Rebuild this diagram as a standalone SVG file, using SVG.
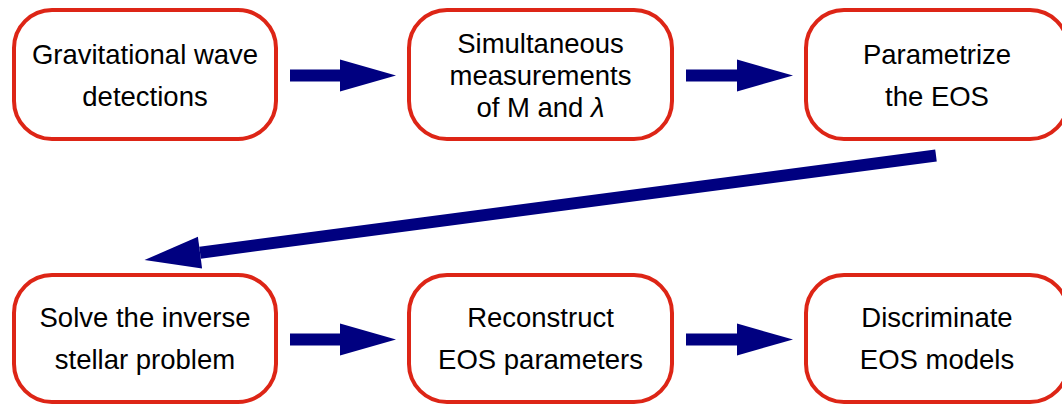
<svg xmlns="http://www.w3.org/2000/svg" width="1062" height="407" viewBox="0 0 1062 407">
<style>
.box{fill:#fff;stroke:#dd2516;stroke-width:4}
.lbl{font-family:"Liberation Sans",Arial,sans-serif;font-size:27.5px;fill:#000;text-anchor:middle}
.arr{stroke:#000080;stroke-width:12;fill:none;marker-end:url(#head)}
</style>
<defs>
<marker id="head" markerUnits="userSpaceOnUse" markerWidth="56" markerHeight="32" viewBox="0 0 56 32" refX="0" refY="16" orient="auto" overflow="visible">
<path d="M0,0 L56,16 L0,32 Z" fill="#000080"/>
</marker>
</defs>
<rect width="1062" height="407" fill="#fff"/>
<g id="n1"><rect class="box" x="14" y="10" width="262" height="129" rx="38"/>
<text class="lbl" x="145" y="64">Gravitational wave</text><text class="lbl" x="145" y="106">detections</text></g>
<g id="n2"><rect class="box" x="409" y="10" width="263" height="129" rx="38"/>
<text class="lbl" x="540.5" y="53">Simultaneous</text><text class="lbl" x="540.5" y="85">measurements</text><text class="lbl" x="540.5" y="117">of M and <tspan font-style="italic">λ</tspan></text></g>
<g id="n3"><rect class="box" x="806" y="10" width="262" height="129" rx="38"/>
<text class="lbl" x="937" y="64">Parametrize</text><text class="lbl" x="937" y="106">the EOS</text></g>
<g id="n4"><rect class="box" x="14" y="275" width="262" height="127" rx="38"/>
<text class="lbl" x="145" y="327">Solve the inverse</text><text class="lbl" x="145" y="369">stellar problem</text></g>
<g id="n5"><rect class="box" x="409" y="275" width="263" height="127" rx="38"/>
<text class="lbl" x="540.5" y="327">Reconstruct</text><text class="lbl" x="540.5" y="369">EOS parameters</text></g>
<g id="n6"><rect class="box" x="806" y="275" width="262" height="127" rx="38"/>
<text class="lbl" x="937" y="327">Discriminate</text><text class="lbl" x="937" y="369">EOS models</text></g>
<g id="connectors">
<line class="arr" x1="290" y1="75.5" x2="340" y2="75.5"/>
<line class="arr" x1="686" y1="75.5" x2="737" y2="75.5"/>
<line class="arr" x1="936" y1="155.5" x2="200" y2="252.7"/>
<line class="arr" x1="290" y1="339.5" x2="340" y2="339.5"/>
<line class="arr" x1="686" y1="339.5" x2="737" y2="339.5"/>
</g>
</svg>
